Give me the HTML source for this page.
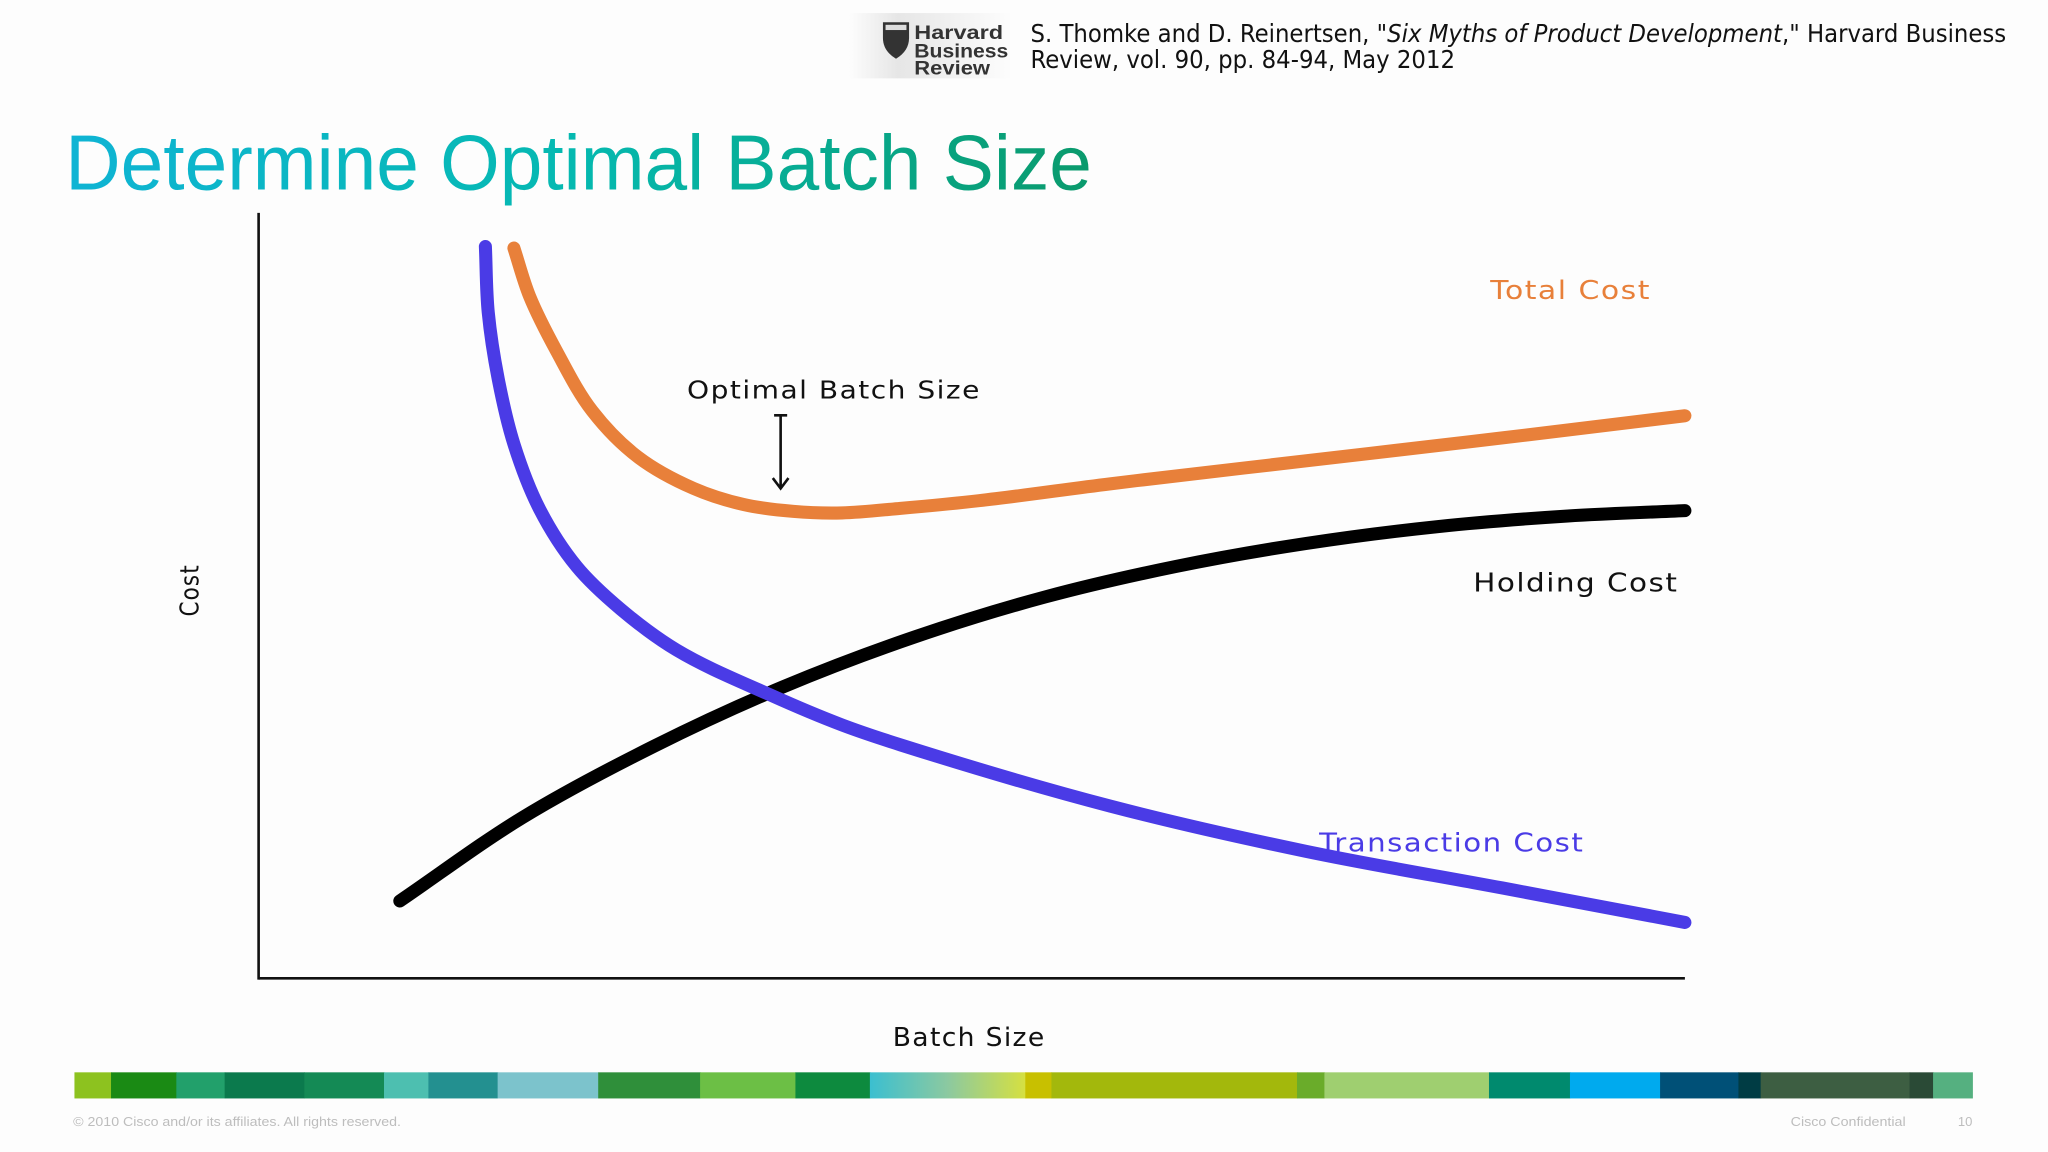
<!DOCTYPE html>
<html><head><meta charset="utf-8"><style>
html,body{margin:0;padding:0;background:#fdfdfd;}
svg{display:block;}
</style></head><body>
<svg id="slide" width="2048" height="1152" viewBox="0 0 1568 882" xmlns="http://www.w3.org/2000/svg" font-family="'Liberation Sans', 'DejaVu Sans', sans-serif">
<defs>
<linearGradient id="tg" x1="0" x2="1" y1="0" y2="0"><stop offset="0" stop-color="#0fb4d4"/><stop offset="0.5" stop-color="#05b9b0"/><stop offset="1" stop-color="#0a9a6c"/></linearGradient>
<linearGradient id="bg1" x1="0" x2="1"><stop offset="0" stop-color="#3bbfd0"/><stop offset="0.5" stop-color="#8cc9a0"/><stop offset="1" stop-color="#d6e040"/></linearGradient>
<linearGradient id="lg" x1="0" x2="1"><stop offset="0" stop-color="#fdfdfd"/><stop offset="0.3" stop-color="#e6e6e6"/><stop offset="1" stop-color="#fdfdfd"/></linearGradient>
</defs>
<rect x="0" y="0" width="1568" height="882" fill="#fdfdfd"/>
<g>
<rect x="650" y="10" width="125" height="50" fill="url(#lg)"/>
<path d="M676 17 h20 v12 q0 10 -10 16 q-10 -6 -10 -16 z" fill="#333"/>
<rect x="678" y="19" width="16" height="4" fill="#ddd"/>
<text x="700" y="30" font-size="15" font-weight="bold" fill="#333" textLength="68" lengthAdjust="spacingAndGlyphs">Harvard</text>
<text x="700" y="44" font-size="15" font-weight="bold" fill="#333" textLength="72" lengthAdjust="spacingAndGlyphs">Business</text>
<text x="700" y="57" font-size="15" font-weight="bold" fill="#333" textLength="58" lengthAdjust="spacingAndGlyphs">Review</text>
</g>
<text x="789" y="32" font-size="19" fill="#111" font-family="'DejaVu Sans Condensed','Liberation Sans Narrow','Liberation Sans',sans-serif" textLength="747" lengthAdjust="spacingAndGlyphs">S. Thomke and D. Reinertsen, "<tspan font-style="italic">Six Myths of Product Development</tspan>," Harvard Business</text>
<text x="789" y="52" font-size="19" fill="#111" font-family="'DejaVu Sans Condensed','Liberation Sans Narrow','Liberation Sans',sans-serif" textLength="325" lengthAdjust="spacingAndGlyphs">Review, vol. 90, pp. 84-94, May 2012</text>
<text x="50" y="145" font-size="60" fill="url(#tg)" textLength="786" lengthAdjust="spacingAndGlyphs">Determine Optimal Batch Size</text>
<g id="chart"></g>
<g id="colorbar"></g>
<text x="56" y="862" font-size="10" fill="#bdbdbd" textLength="251" lengthAdjust="spacingAndGlyphs">© 2010 Cisco and/or its affiliates. All rights reserved.</text>
<text x="1371" y="862" font-size="10" fill="#bdbdbd" textLength="88" lengthAdjust="spacingAndGlyphs">Cisco Confidential</text>
<text x="1499" y="862" font-size="10" fill="#bdbdbd">10</text>
</svg>
<script>
const transX=[15.9,16.1,16.8,17.9,19.7,22.3,25.4,29.3,35.9,40.9,45.0,59.7,73.4,87.2,100];
const transY=[95.6,87.0,78.3,69.8,61.3,53.8,48.2,42.9,37.0,33.1,30.5,22.5,16.6,11.8,7.3];
const holdX=[9.9,18.5,27.7,36.8,46.0,55.1,64.3,73.4,82.6,91.8,100];
const holdY=[10.1,21.0,30.3,38.1,44.6,49.8,53.8,56.8,59.0,60.4,61.1];
const totalX=[17.9,19.0,20.9,23.4,26.6,30.5,34.0,37.5,40.9,45.0,50.5,59.7,73.4,87.2,100];
const totalY=[95.4,89.1,81.9,74.1,68.1,64.0,61.9,61.0,60.8,61.4,62.4,64.6,67.6,70.6,73.5];
const optimalX=[36.6];
const NS='http://www.w3.org/2000/svg';
const X0=198,X1=1290,Y0=749,Y1=163;
function sx(v){return X0+(X1-X0)*v/100;}
function sy(v){return Y0-(Y0-Y1)*v/100;}
const chart=document.getElementById('chart');
function mk(tag,attrs,parent){const e=document.createElementNS(NS,tag);for(const k in attrs)e.setAttribute(k,attrs[k]);(parent||chart).appendChild(e);return e;}
function dist(a,b){return Math.hypot(b[0]-a[0],b[1]-a[1]);}
function unit(a,b){const L=dist(a,b)||1;return [(b[0]-a[0])/L,(b[1]-a[1])/L];}
function smooth(xs,ys){
 const p=xs.map((x,i)=>[sx(x),sy(ys[i])]);const n=p.length;
 const t=p.map((b,i)=>{
  if(i===0)return unit(p[0],p[1]);
  if(i===n-1)return unit(p[n-2],p[n-1]);
  const u1=unit(p[i-1],b),u2=unit(b,p[i+1]);const v=[u1[0]+u2[0],u1[1]+u2[1]];const L=Math.hypot(v[0],v[1])||1;return [v[0]/L,v[1]/L];});
 let d='M'+p[0][0]+' '+p[0][1];
 for(let i=0;i<n-1;i++){const b=p[i],c=p[i+1],s=dist(b,c)/3;
  d+=' C'+(b[0]+t[i][0]*s)+' '+(b[1]+t[i][1]*s)+' '+(c[0]-t[i+1][0]*s)+' '+(c[1]-t[i+1][1]*s)+' '+c[0]+' '+c[1];}
 return d;}
let e;
e=mk('line',{x1:X0,y1:Y1,x2:X0,y2:Y0+1,stroke:'#111','stroke-width':2});


e=mk('line',{x1:X0,y1:Y0,x2:X1,y2:Y0,stroke:'#111','stroke-width':2});


e=mk('path',{d:smooth(holdX,holdY),fill:'none',stroke:'#000','stroke-width':10,'stroke-linecap':'round'});


e=mk('path',{d:smooth(transX,transY),fill:'none',stroke:'#4a3be6','stroke-width':10,'stroke-linecap':'round'});


e=mk('path',{d:smooth(totalX,totalY),fill:'none',stroke:'#e8803a','stroke-width':10,'stroke-linecap':'round'});


const ax=sx(optimalX[0]);
e=mk('path',{d:'M'+(ax-5)+' 318 H'+(ax+5)+' M'+ax+' 318 V373 M'+(ax-6)+' 366 L'+ax+' 374 L'+(ax+6)+' 366',fill:'none',stroke:'#111','stroke-width':2});


function txt(s,x,y,fill,size,len,anchor,rot){const t=mk('text',{x:x,y:y,fill:fill,'font-size':size,'letter-spacing':1,'font-family':"'DejaVu Sans','Liberation Sans',sans-serif"});if(len){t.setAttribute('textLength',len);t.setAttribute('lengthAdjust','spacingAndGlyphs');}if(anchor)t.setAttribute('text-anchor',anchor);if(rot)t.setAttribute('transform',rot);t.textContent=s;return t;}
e=txt('Optimal Batch Size',526,305,'#111',19,225,null);


e=txt('Total Cost',1141,229,'#e8803a',20,123,null);


e=txt('Holding Cost',1128,453,'#111',20,157,null);


e=txt('Transaction Cost',1010,652,'#4a3be6',20,203,null);


e=txt('Batch Size',742,801,'#111',20,117,'middle');


e=txt('Cost',152,452,'#111',20,40,'middle','rotate(-90 152 452)');


const barEdges=[57,85,135,172,233,294,328,381,458,536,609,666,785,805,993,1014,1140,1202,1271,1331,1348,1462,1480,1510];
const barColors=['#8dc21f','#1a8a14','#22a06b','#0b7a4d','#148a55','#4dbfb0','#239090','#7cc3cc','#2f8f3a','#6cbf45','#0d8a3e','url(#bg1)','#c8c000','#a3b80c','#6aac2a','#9fcf70','#008a6e','#00aaee','#005077','#003c44','#3d5e42','#2a4a36','#55b080'];
const cb=document.getElementById('colorbar');
for(let i=0;i<barColors.length;i++){
 const r=mk('rect',{x:barEdges[i],y:821,width:barEdges[i+1]-barEdges[i]+0.5,height:20,fill:barColors[i]},cb);
 
 
}
</script>
</body></html>
